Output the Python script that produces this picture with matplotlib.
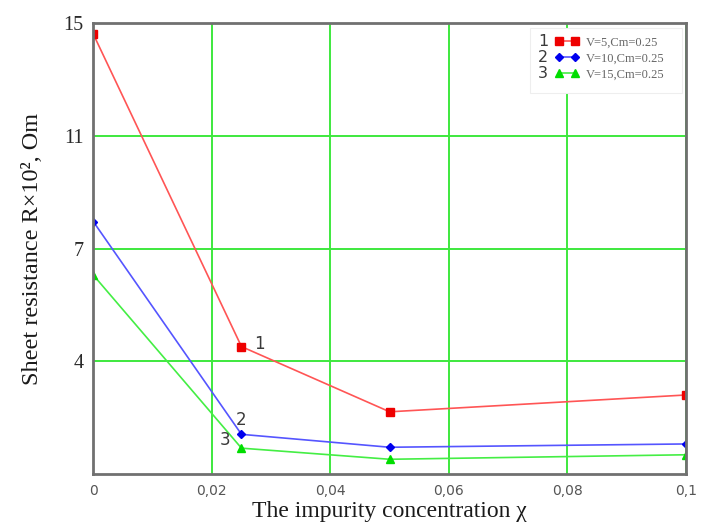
import matplotlib
matplotlib.use('Agg')
import matplotlib.pyplot as plt
from matplotlib.patches import Rectangle

# impurity concentration
x = [0.0, 0.025, 0.05, 0.1]

# sheet resistance R x 10^2, Om
r_v5 = [14.64, 4.24, 2.07, 2.63]
r_v10 = [8.40, 1.32, 0.89, 1.00]
r_v15 = [6.62, 0.86, 0.49, 0.64]

labels = ['V=5,Cm=0.25', 'V=10,Cm=0.25', 'V=15,Cm=0.25']
numbers = ['1', '2', '3']

xticks = [0, 0.02, 0.04, 0.06, 0.08, 0.1]
xticklabels = ['0', '0,02', '0,04', '0,06', '0,08', '0,1']
yticks = [3.75, 7.5, 11.25, 15]
yticklabels = ['4', '7', '11', '15']

serif = 'Liberation Serif'
W, H = 704, 525

fig = plt.figure(figsize=(W / 100, H / 100), dpi=100)
x0, x1, ytop, ybot = 93.3, 686.0, 23.3, 474.0
ax = fig.add_axes([x0 / W, 1 - ybot / H, (x1 - x0) / W, (ybot - ytop) / H])

l1, = ax.plot(x, r_v5, color='#ff5555', lw=1.2, marker='s', ms=5.5,
              mfc='#ee0000', mec='#ee0000', label=labels[0])
l2, = ax.plot(x, r_v10, color='#5555ff', lw=1.2, marker='D', ms=4.5,
              mfc='#0000ee', mec='#0000ee', label=labels[1])
l3, = ax.plot(x, r_v15, color='#44ee44', lw=1.2, marker='^', ms=6,
              mfc='#00dd00', mec='#00dd00', label=labels[2])

ax.set_xlim(0, 0.1)
ax.set_ylim(0, 15)
ax.set_xticks(xticks)
ax.set_xticklabels(xticklabels)
ax.set_yticks(yticks)
ax.set_yticklabels(yticklabels)
ax.tick_params(length=0)
ax.tick_params(axis='x', pad=7, labelsize=10, labelcolor='#555555')
ax.tick_params(axis='y', pad=7, labelsize=14.5, labelcolor='#2a2a2a')
for t in ax.get_yticklabels():
    t.set_fontfamily(serif)

ax.set_axisbelow(True)
ax.grid(True, color='#3ee83e', lw=1.4)
for s in ax.spines.values():
    s.set_color('#707070')
    s.set_linewidth(2)

ax.set_xlabel('The impurity concentration χ', family=serif, fontsize=17,
              color='#1a1a1a', labelpad=2)
ax.set_ylabel('Sheet resistance R×10², Om', family=serif, fontsize=17.5,
              color='#1a1a1a', labelpad=15)

# curve numbers next to the second points
offsets = [(13, 2), (0, 10), (-12, 6)]
for num, ser, off in zip(numbers, [r_v5, r_v10, r_v15], offsets):
    ax.annotate(num, xy=(x[1], ser[1]), xytext=off, textcoords='offset points',
                ha='center', va='center', fontsize=12, color='#3a3a3a')

# legend background
ax.add_patch(Rectangle((0.737, 0.845), 0.256, 0.145, transform=ax.transAxes,
                       facecolor='white', edgecolor='#eeeeee', lw=0.8, zorder=1))
leg = ax.legend(handles=[l1, l2, l3], loc='upper left',
                bbox_to_anchor=(555 / W, 1 - 36.5 / H),
                bbox_transform=fig.transFigure, frameon=False, numpoints=2,
                borderpad=0, borderaxespad=0, handlelength=1.9,
                handletextpad=0.55, labelspacing=0.32,
                prop={'family': serif, 'size': 9})
for t in leg.get_texts():
    t.set_color('#666666')
for num, yy in zip(numbers, [42, 58, 74]):
    fig.text(543 / W, 1 - yy / H, num, ha='center', va='center',
             fontsize=11.5, color='#3a3a3a', zorder=10)

fig.savefig('out.png', dpi=100)
